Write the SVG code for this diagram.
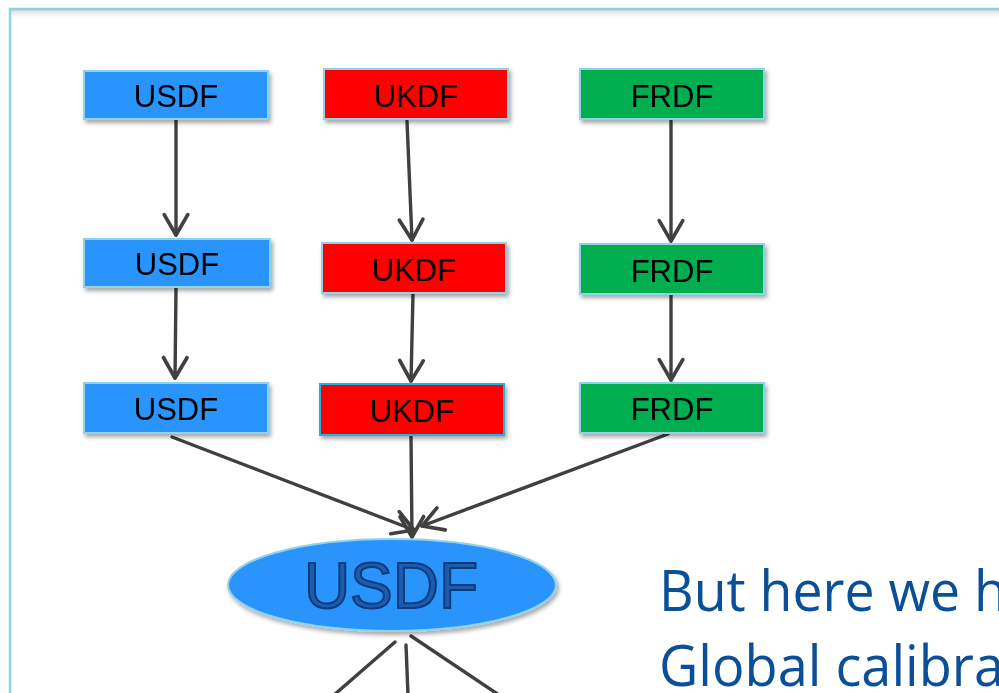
<svg xmlns="http://www.w3.org/2000/svg" width="999" height="693" viewBox="0 0 999 693">
<style>
.box{stroke:#8fd3ea;stroke-width:2}
.us{fill:#2a94fd}
.uk{fill:#ff0000}
.fr{fill:#00ad50}
.lbl{font-family:"Liberation Sans",Arial,sans-serif;font-size:31px;fill:#000;text-anchor:middle}
.edge{stroke:#404040;stroke-width:3.4;fill:none;stroke-linecap:round}
.big{font-family:"Liberation Sans",Arial,sans-serif;font-size:64px;fill:#1f5cae;stroke:#0b3a7c;stroke-width:2;text-anchor:middle}
.note{font-family:"Open Sans","Noto Sans",sans-serif;font-size:56px;fill:#0a4f98}
</style>
<defs>
<filter id="sh" x="-10%" y="-20%" width="125%" height="160%">
<feDropShadow dx="2" dy="3" stdDeviation="2" flood-color="#000" flood-opacity="0.35"/>
</filter>
<linearGradient id="topsh" x1="0" y1="0" x2="0" y2="1">
<stop offset="0" stop-color="#d8d8d8"/>
<stop offset="1" stop-color="#ffffff" stop-opacity="0"/>
</linearGradient>
<marker id="ah" markerUnits="userSpaceOnUse" markerWidth="30" markerHeight="30" viewBox="-22 -14 26 28" refX="0" refY="0" orient="auto">
<path d="M-19,-11 L0,0 L-19,11" fill="none" stroke="#404040" stroke-width="3.4" stroke-linecap="round" stroke-linejoin="round"/>
</marker>
</defs>
<rect x="0" y="0" width="999" height="693" fill="#ffffff"/>
<g id="frame">
<rect x="11" y="10" width="1000" height="10" fill="url(#topsh)"/>
<rect x="10" y="9" width="1200" height="1000" fill="none" stroke="#8ed2e8" stroke-width="2.5"/>
</g>
<g id="connectors">
<line class="edge" x1="176" y1="120" x2="176" y2="235" marker-end="url(#ah)"/>
<line class="edge" x1="407" y1="121" x2="412" y2="240" marker-end="url(#ah)"/>
<line class="edge" x1="671" y1="121" x2="671" y2="241" marker-end="url(#ah)"/>
<line class="edge" x1="176" y1="288" x2="175" y2="378" marker-end="url(#ah)"/>
<line class="edge" x1="413" y1="294" x2="411" y2="381" marker-end="url(#ah)"/>
<line class="edge" x1="671" y1="295" x2="671" y2="380" marker-end="url(#ah)"/>
<line class="edge" x1="172" y1="437" x2="414" y2="530" marker-end="url(#ah)"/>
<line class="edge" x1="411" y1="437" x2="412" y2="537" marker-end="url(#ah)"/>
<line class="edge" x1="668" y1="434" x2="422" y2="526" marker-end="url(#ah)"/>
<line class="edge" x1="395" y1="642" x2="334" y2="695"/>
<line class="edge" x1="406" y1="645" x2="408" y2="695"/>
<line class="edge" x1="411" y1="636" x2="499" y2="695"/>
</g>
<g id="usdf1" filter="url(#sh)"><rect class="box us" x="84" y="71" width="184" height="48"/><text class="lbl" x="176" y="107">USDF</text></g>
<g id="ukdf1" filter="url(#sh)"><rect class="box uk" x="324" y="69" width="184" height="50"/><text class="lbl" x="416" y="107">UKDF</text></g>
<g id="frdf1" filter="url(#sh)"><rect class="box fr" x="580" y="69" width="184" height="50"/><text class="lbl" x="672" y="107">FRDF</text></g>
<g id="usdf2" filter="url(#sh)"><rect class="box us" x="84" y="239" width="186" height="48"/><text class="lbl" x="177" y="275">USDF</text></g>
<g id="ukdf2" filter="url(#sh)"><rect class="box uk" x="322" y="243" width="184" height="50"/><text class="lbl" x="414" y="281">UKDF</text></g>
<g id="frdf2" filter="url(#sh)"><rect class="box fr" x="580" y="244" width="184" height="50"/><text class="lbl" x="672" y="282">FRDF</text></g>
<g id="usdf3" filter="url(#sh)"><rect class="box us" x="84" y="383" width="184" height="50"/><text class="lbl" x="176" y="420">USDF</text></g>
<g id="ukdf3" filter="url(#sh)"><rect x="320" y="384" width="184" height="51" fill="#ff0000" stroke="#1ab4e8" stroke-width="2"/><text class="lbl" x="412" y="422">UKDF</text></g>
<g id="frdf3" filter="url(#sh)"><rect class="box fr" x="580" y="383" width="184" height="50"/><text class="lbl" x="672" y="420">FRDF</text></g>
<g id="usdf-global" filter="url(#sh)">
<ellipse cx="392" cy="585" rx="164" ry="46" fill="#2a94fd" stroke="#8fd3ea" stroke-width="2"/>
<text class="big" x="391" y="608">USDF</text>
</g>
<g id="note">
<text class="note" x="659" y="611" textLength="348" lengthAdjust="spacingAndGlyphs">But here we h</text>
<text class="note" x="659" y="686" textLength="345" lengthAdjust="spacingAndGlyphs">Global calibra</text>
</g>
</svg>
